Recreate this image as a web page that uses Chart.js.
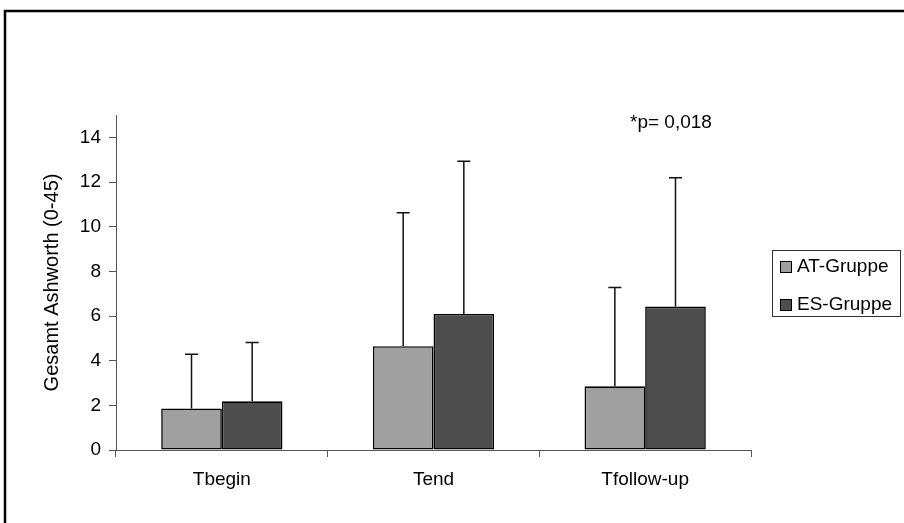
<!DOCTYPE html>
<html>
<head>
<meta charset="utf-8">
<script src="https://cdn.jsdelivr.net/npm/chart.js@4/dist/chart.umd.min.js"></script>
<style>
  html,body{margin:0;padding:0;background:#fff;}
  #wrap{width:904px;height:523px;position:relative;}
</style>
</head>
<body>
<div id="wrap"><canvas id="grafico" width="904" height="523"></canvas></div>
<script>
// Daten
const zeitpunkte = ['Tbegin', 'Tend', 'Tfollow-up'];
const atMittel = [1.86, 4.65, 2.85];
const atSD = [2.43, 5.97, 4.43];
const esMittel = [2.18, 6.09, 6.42];
const esSD = [2.63, 6.84, 5.77];
const yTicks = [0, 2, 4, 6, 8, 10, 12, 14];
const pText = '*p= 0,018';

const schrift = '"Liberation Sans", Arial, sans-serif';

// Fehlerbalken (nur nach oben)
const fehlerbalken = {
  id: 'fehlerbalken',
  afterDatasetsDraw(chart){
    const c = chart.ctx;
    const y = chart.scales.y;
    const sds = [atSD, esSD];
    c.save();
    c.strokeStyle = '#111';
    c.lineWidth = 1.5;
    chart.data.datasets.forEach((ds, i) => {
      const meta = chart.getDatasetMeta(i);
      meta.data.forEach((bar, j) => {
        const top = y.getPixelForValue(ds.data[j] + sds[i][j]);
        c.beginPath();
        c.moveTo(bar.x, bar.y);
        c.lineTo(bar.x, top);
        c.moveTo(bar.x - 6.5, top);
        c.lineTo(bar.x + 6.5, top);
        c.stroke();
      });
    });
    c.restore();
  }
};

// Rahmen, Legende und p-Wert
const extras = {
  id: 'extras',
  beforeDraw(chart){
    const c = chart.ctx;
    c.save();
    c.fillStyle = '#fff';
    c.fillRect(0, 0, chart.width, chart.height);
    c.strokeStyle = '#000';
    c.lineWidth = 2.5;
    c.beginPath();
    c.moveTo(5, chart.height + 2);
    c.lineTo(5, 11);
    c.lineTo(chart.width + 2, 11);
    c.stroke();
    c.restore();
  },
  afterDraw(chart){
    const c = chart.ctx;
    c.save();
    // Legende
    c.strokeStyle = '#333';
    c.lineWidth = 1;
    c.strokeRect(772.5, 250.5, 128, 66);
    c.font = '19px ' + schrift;
    c.textBaseline = 'middle';
    c.fillStyle = '#000';
    const ly = [267, 305];
    chart.data.datasets.forEach((ds, i) => {
      c.fillStyle = ds.backgroundColor;
      c.fillRect(780.5, ly[i] - 5.5, 11, 11);
      c.strokeStyle = '#000';
      c.strokeRect(780.5, ly[i] - 5.5, 11, 11);
      c.fillStyle = '#000';
      c.fillText(ds.label, 797, ly[i]);
    });
    // p-Wert
    c.textAlign = 'left';
    c.fillText(pText, 630, 123);
    c.restore();
  }
};

const ctx = document.getElementById('grafico').getContext('2d');
const grafico = new Chart(ctx, {
  type: 'bar',
  data: {
    labels: zeitpunkte,
    datasets: [
      {label: 'AT-Gruppe', data: atMittel, backgroundColor: '#a0a0a0', borderColor: '#000', borderWidth: 1.6, borderSkipped: false},
      {label: 'ES-Gruppe', data: esMittel, backgroundColor: '#4d4d4d', borderColor: '#000', borderWidth: 1.6, borderSkipped: false}
    ]
  },
  options: {
    responsive: false,
    animation: false,
    devicePixelRatio: 1,
    layout: {padding: {left: 0, top: 115, right: 153, bottom: 0}},
    plugins: {legend: {display: false}, tooltip: {enabled: false}},
    datasets: {bar: {categoryPercentage: 0.573, barPercentage: 1}},
    scales: {
      x: {
        grid: {offset: true, drawOnChartArea: false, drawTicks: true, tickLength: 7, color: '#555', lineWidth: 1},
        border: {color: '#555', width: 1},
        ticks: {color: '#000', font: {family: schrift, size: 19}, padding: 11},
        afterFit(s){ s.height = 73; }
      },
      y: {
        min: 0, max: 15,
        afterBuildTicks(s){ s.ticks = yTicks.map(v => ({value: v})); },
        grid: {drawOnChartArea: false, drawTicks: true, tickLength: 7, color: '#555', lineWidth: 1},
        border: {color: '#555', width: 1},
        ticks: {color: '#000', font: {family: schrift, size: 19}, padding: 8},
        title: {display: true, text: 'Gesamt Ashworth (0-45)', color: '#000', font: {family: schrift, size: 20}, padding: {top: 40, bottom: 0}},
        afterFit(s){ s.width = 116; }
      }
    }
  },
  plugins: [extras, fehlerbalken]
});
</script>
</body>
</html>
